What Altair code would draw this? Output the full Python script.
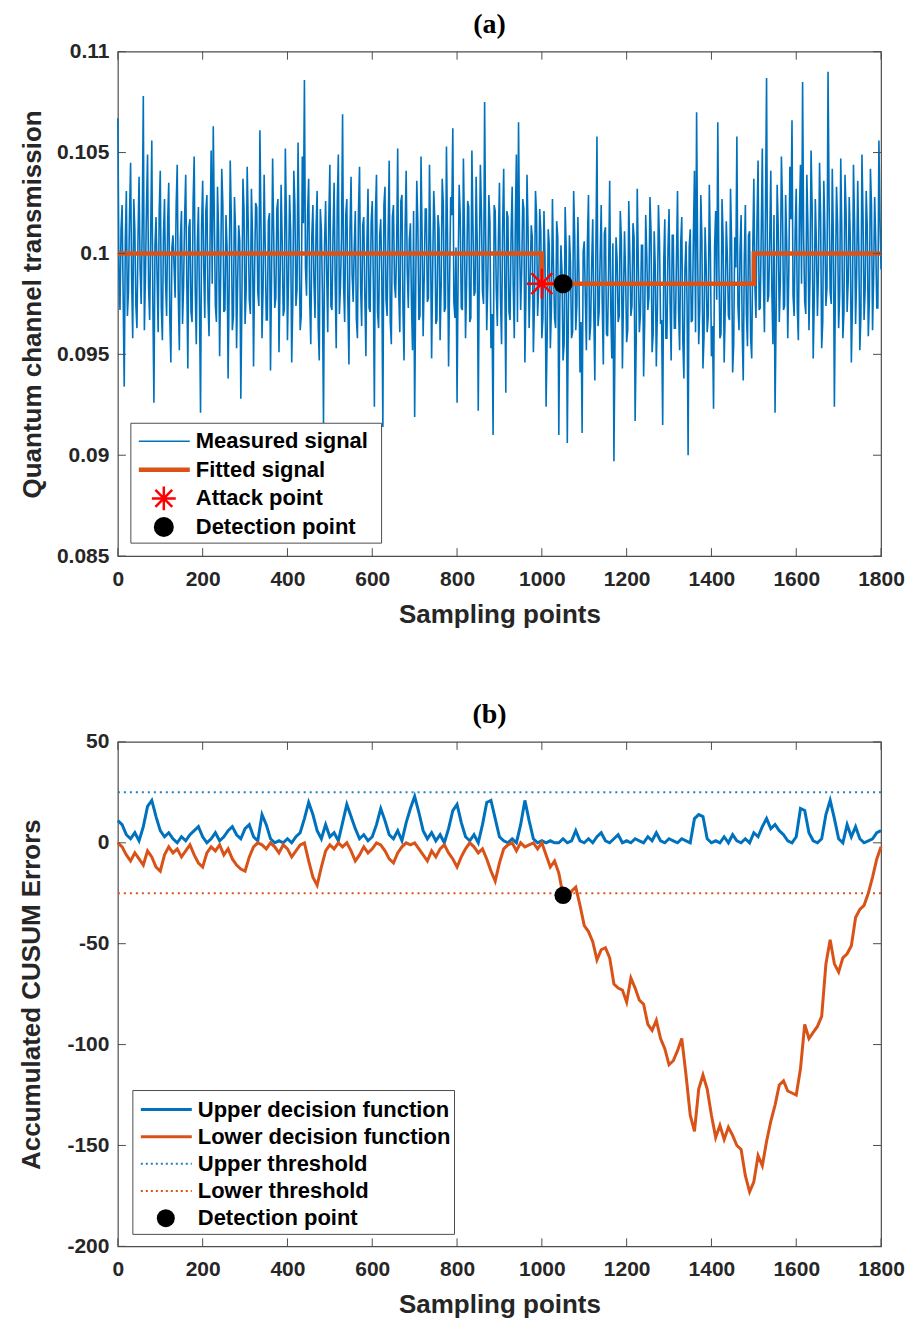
import altair as alt
import numpy as np
import pandas as pd

# ---------------- data ----------------
x_ticks = [0, 200, 400, 600, 800, 1000, 1200, 1400, 1600, 1800]
a_y_ticks = [0.085, 0.09, 0.095, 0.1, 0.105, 0.11]
b_y_ticks = [-200, -150, -100, -50, 0, 50]

# panel (a): measured quantum channel transmission, readings at sampling points 0, 5, 10, ...
measured_step = 5
measured = [
    0.1067, 0.0972, 0.1024, 0.0934, 0.1031, 0.0981, 0.1045, 0.0958, 0.1012, 0.0963,
    0.1038, 0.0975, 0.1078, 0.0988, 0.1049, 0.0967, 0.1056, 0.0926, 0.1018, 0.0961,
    0.1041, 0.0957, 0.1027, 0.0969, 0.1035, 0.0946, 0.1009, 0.0978, 0.1044, 0.0952,
    0.1021, 0.0984, 0.1039, 0.0943, 0.1017, 0.0966, 0.1048, 0.0955, 0.1023, 0.0921,
    0.1036, 0.0968, 0.1029, 0.0959, 0.1051, 0.1063, 0.0974, 0.1033, 0.0949, 0.1042,
    0.0971, 0.1019, 0.0938, 0.1046, 0.0962, 0.1028, 0.0953, 0.1014, 0.0928, 0.1037,
    0.0965, 0.1043, 0.0977, 0.1032, 0.0944, 0.1025, 0.0981, 0.1061, 0.0958, 0.1039,
    0.0967, 0.1016, 0.0942, 0.1047, 0.0973, 0.1022, 0.0951, 0.1034, 0.0969, 0.1052,
    0.0957, 0.1029, 0.0946, 0.1041, 0.0974, 0.1055, 0.0962, 0.1048, 0.1086, 0.0979,
    0.1037, 0.0955, 0.1024, 0.0968, 0.1031, 0.0947, 0.1012, 0.0916, 0.1026, 0.0961,
    0.1044, 0.0972, 0.1035, 0.0953, 0.1049, 0.0984, 0.1069, 0.0966, 0.1027, 0.0945,
    0.1038, 0.0976, 0.1021, 0.0958, 0.1043, 0.0964, 0.1018, 0.0949, 0.1032, 0.0971,
    0.1026, 0.0924, 0.1039, 0.0963, 0.1017, 0.0914, 0.1033, 0.0969, 0.1046, 0.0955,
    0.1024, 0.0978, 0.1052, 0.0961, 0.1029, 0.0947, 0.1041, 0.0973, 0.1015, 0.0952,
    0.0919, 0.1036, 0.0967, 0.1048, 0.0959, 0.1022, 0.0976, 0.1044, 0.0948, 0.1031,
    0.0965, 0.1019, 0.0957, 0.1037, 0.0971, 0.1053, 0.0944, 0.1028, 0.1062, 0.0968,
    0.0926, 0.1034, 0.0973, 0.1047, 0.0958, 0.1026, 0.0966, 0.1051, 0.0979, 0.1038,
    0.0922, 0.1044, 0.0981, 0.1075, 0.0962, 0.1029, 0.0953, 0.0910, 0.1021, 0.0964,
    0.1035, 0.0955, 0.1042, 0.0931, 0.1018, 0.0967, 0.1033, 0.0958, 0.1049, 0.1065,
    0.0972, 0.1027, 0.0946, 0.1039, 0.0963, 0.1014, 0.0951, 0.1031, 0.0969, 0.1022,
    0.0958, 0.1021, 0.0924, 0.1012, 0.0953, 0.1027, 0.0968, 0.1016, 0.0910, 0.1004,
    0.0947, 0.1023, 0.0906, 0.1009, 0.0958, 0.1031, 0.0962, 0.1018, 0.0941, 0.0911,
    0.1006, 0.0952, 0.1029, 0.0964, 0.1017, 0.0937, 0.1058, 0.0971, 0.1024, 0.0945,
    0.1013, 0.0959, 0.1036, 0.0948, 0.0897, 0.1008, 0.0966, 0.1021, 0.0943, 0.1011,
    0.0956, 0.1026, 0.0969, 0.1015, 0.0917, 0.1032, 0.0961, 0.1004, 0.0939, 0.1019,
    0.0972, 0.1028, 0.0951, 0.1011, 0.0944, 0.1024, 0.0965, 0.0915, 0.1017, 0.0958,
    0.1022, 0.0947, 0.1009, 0.0963, 0.1031, 0.0952, 0.1018, 0.0938, 0.1006, 0.0900,
    0.1012, 0.0967, 0.1041, 0.1070, 0.0955, 0.1029, 0.0943, 0.1013, 0.0961, 0.1034,
    0.0949, 0.0923, 0.1021, 0.1065, 0.0958, 0.1027, 0.0946, 0.1016, 0.0969, 0.1032,
    0.0941, 0.1008, 0.1058, 0.0962, 0.1019, 0.0937, 0.1024, 0.0954, 0.1011, 0.0948,
    0.1037, 0.0968, 0.1046, 0.0973, 0.1052, 0.0961, 0.1087, 0.0979, 0.1041, 0.0955,
    0.0921, 0.1034, 0.0966, 0.1048, 0.0972, 0.1029, 0.0958, 0.1043, 0.1066, 0.0969,
    0.1032, 0.0957, 0.1044, 0.1085, 0.0976, 0.1039, 0.0962, 0.1051, 0.0948, 0.1027,
    0.0969, 0.1045, 0.0953, 0.1036, 0.0974, 0.1090, 0.0981, 0.1042, 0.0924, 0.1033,
    0.0963, 0.1047, 0.0958, 0.1039, 0.0971, 0.1028, 0.0946, 0.1044, 0.0965, 0.1036,
    0.0952, 0.1049, 0.0967, 0.1031, 0.0959, 0.1042, 0.0962, 0.1028, 0.0973, 0.1056,
    0.0992,
]
# readings in between, at sampling points 2.5, 7.5, 12.5, ...
measured_mid_offset = 2.5
measured_mid = [
    0.0991, 0.1012, 0.0978, 0.1006, 0.0969, 0.1019, 0.0987, 0.1027, 0.0974, 0.1008,
    0.0992, 0.1015, 0.0962, 0.1023, 0.0983, 0.1011, 0.0976, 0.1004, 0.0989, 0.1021,
    0.0973, 0.1009, 0.0986, 0.1016, 0.0968, 0.1003, 0.0994, 0.1024, 0.0979, 0.1007,
    0.0965, 0.1018, 0.0988, 0.1013, 0.0971, 0.1026, 0.0982, 0.1005, 0.0975, 0.1014,
    0.0993, 0.1021, 0.0977, 0.1008, 0.0985, 0.1017, 0.0966, 0.1011, 0.0990, 0.1025,
    0.0972, 0.1003, 0.0984, 0.1019, 0.0969, 0.1012, 0.0987, 0.1006, 0.0976, 0.1022,
    0.0981, 0.1014, 0.0970, 0.1009, 0.0992, 0.1023, 0.0974, 0.1016, 0.0983, 0.1004,
    0.0967, 0.1020, 0.0989, 0.1010, 0.0978, 0.1027, 0.0985, 0.1007, 0.0972, 0.1018,
    0.0988, 0.1011, 0.0975, 0.1024, 0.0982, 0.1006, 0.0969, 0.1015, 0.0993, 0.1020,
    0.0977, 0.1009, 0.0986, 0.1013, 0.0964, 0.1022, 0.0980, 0.1005, 0.0991, 0.1017,
    0.0974, 0.1010, 0.0987, 0.1025, 0.0970, 0.1008, 0.0983, 0.1019, 0.0976, 0.1012,
    0.0990, 0.1003, 0.0968, 0.1021, 0.0984, 0.1014, 0.0979, 0.1006, 0.0973, 0.1016,
    0.0986, 0.1020, 0.0971, 0.1009, 0.0989, 0.1024, 0.0977, 0.1011, 0.0966, 0.1018,
    0.0985, 0.1004, 0.0980, 0.1026, 0.0972, 0.1013, 0.0992, 0.1007, 0.0975, 0.1021,
    0.0983, 0.1015, 0.0969, 0.1010, 0.0988, 0.1022, 0.0978, 0.1005, 0.0991, 0.1017,
    0.0967, 0.1012, 0.0984, 0.1025, 0.0973, 0.1008, 0.0987, 0.1019, 0.0976, 0.1003,
    0.0990, 0.1018, 0.0972, 0.1011, 0.0985, 0.1023, 0.0968, 0.1014, 0.0981, 0.1006,
    0.0993, 0.1020, 0.0975, 0.1009, 0.0986, 0.1016, 0.0970, 0.1024, 0.0982, 0.1007,
    0.0977, 0.1013, 0.0989, 0.1021, 0.0971, 0.1010, 0.0984, 0.1017, 0.0966, 0.1005,
    0.0992, 0.1022, 0.0979, 0.1012, 0.0987, 0.1008, 0.0974, 0.1019, 0.0983, 0.1011,
    0.0968, 0.0997, 0.0959, 0.1004, 0.0972, 0.0993, 0.0963, 0.1008, 0.0976, 0.0991,
    0.0955, 0.1002, 0.0970, 0.0996, 0.0961, 0.1009, 0.0974, 0.0989, 0.0966, 0.1001,
    0.0979, 0.1006, 0.0957, 0.0994, 0.0971, 0.1003, 0.0964, 0.0998, 0.0975, 0.1010,
    0.0960, 0.0992, 0.0973, 0.1005, 0.0958, 0.0997, 0.0969, 0.1007, 0.0977, 0.0990,
    0.0962, 0.1000, 0.0974, 0.1008, 0.0956, 0.0995, 0.0970, 0.1004, 0.0965, 0.0999,
    0.0978, 0.1011, 0.0960, 0.0993, 0.0972, 0.1006, 0.0967, 0.0996, 0.0958, 0.1002,
    0.0975, 0.1009, 0.0963, 0.0997, 0.0971, 0.1005, 0.0957, 0.0992, 0.0976, 0.1003,
    0.0966, 0.1010, 0.0961, 0.0998, 0.0973, 0.1007, 0.0959, 0.0994, 0.0969, 0.1001,
    0.0964, 0.1004, 0.0977, 0.0995, 0.0960, 0.1008, 0.0972, 0.0999, 0.0967, 0.1006,
    0.0955, 0.0993, 0.0974, 0.1002, 0.0962, 0.0997, 0.0970, 0.1009, 0.0958, 0.1003,
    0.0984, 0.1016, 0.0972, 0.1010, 0.0989, 0.1022, 0.0976, 0.1007, 0.0981, 0.1019,
    0.0968, 0.1013, 0.0986, 0.1025, 0.0974, 0.1006, 0.0991, 0.1017, 0.0979, 0.1011,
    0.0973, 0.1020, 0.0985, 0.1008, 0.0970, 0.1014, 0.0988, 0.1023, 0.0977, 0.1005,
    0.0992, 0.1018, 0.0966, 0.1012, 0.0983, 0.1026, 0.0975, 0.1009, 0.0987, 0.1015,
    0.0980, 0.1011, 0.0971, 0.1021, 0.0986, 0.1007, 0.0974, 0.1016, 0.0990, 0.1004,
    0.0969, 0.1019, 0.0982, 0.1013, 0.0977, 0.1024, 0.0988, 0.1006, 0.0973, 0.1017,
]

# panel (a): fitted step signal, attack and detection points
fitted_x = [0, 1000, 1000, 1500, 1500, 1800]
fitted_y = [0.1, 0.1, 0.0985, 0.0985, 0.1, 0.1]
attack_x = [1000]
attack_y = [0.0985]
detect_a_x = [1050]
detect_a_y = [0.0985]

# panel (b): CUSUM decision functions, one reading every 10 sampling points
cusum_step = 10
upper_fn = [
    11, 9, 4, 2, 5, 1, 8, 18, 21, 13, 6, 3, 5, 2, 0, 3, 1, 4, 6, 8,
    3, 0, 2, 5, 1, 3, 6, 8, 4, 2, 7, 9, 3, 1, 14, 9, 2, 0, 1, 0,
    2, 0, 3, 5, 12, 20, 14, 6, 2, 9, 3, 5, 1, 10, 19, 13, 7, 2, 4, 1,
    3, 9, 17, 11, 4, 2, 6, 1, 10, 17, 23, 15, 6, 2, 5, 1, 4, 0, 7, 16,
    19, 10, 3, 1, 4, 0, 9, 20, 21, 12, 3, 1, 0, 2, 0, 9, 21, 11, 2, 0,
    1, 0, 1, 0, 0, 2, 0, 1, 6, 1, 0, 2, 0, 3, 5, 1, 0, 2, 4, 0,
    1, 0, 2, 1, 0, 3, 1, 5, 1, 0, 2, 1, 0, 2, 1, 0, 12, 14, 13, 2,
    0, 1, 0, 3, 0, 4, 1, 0, 2, 0, 5, 3, 8, 12, 7, 9, 6, 4, 1, 0,
    3, 17, 16, 5, 1, 0, 2, 14, 21, 12, 2, 0, 9, 3, 8, 2, 0, 1, 2, 5,
    6,
]
lower_fn = [
    0, -2, -6, -9, -5, -8, -11, -4, -7, -12, -14, -6, -2, -5, -3, -7, -4, -1, -6, -10,
    -12, -5, -2, -4, -1, -6, -3, -8, -11, -13, -14, -7, -2, 0, -1, -3, 0, -2, -5, -1,
    -3, -7, -4, -1, 0, -9, -17, -21, -12, -4, -1, -3, 0, -2, 0, -4, -9, -6, -2, -5,
    -3, 0, -1, -4, -8, -10, -5, -2, 0, -1, 0, -3, -6, -9, -4, -7, -3, -1, -5, -8,
    -12, -7, -3, 0, -2, -5, -3, -8, -14, -19, -10, -3, -1, 0, -4, 0, -2, -1, 0, -3,
    0, -6, -12, -9, -15, -26, -28, -24, -22, -31, -41, -44, -49, -58, -53, -52, -57, -70, -72, -73,
    -79, -67, -72, -78, -80, -90, -93, -88, -97, -102, -110, -108, -103, -97, -115, -135, -143, -122, -115, -122,
    -135, -146, -140, -147, -141, -145, -150, -152, -165, -173, -168, -155, -160, -148, -138, -130, -120, -118, -123, -124,
    -125, -112, -90, -97, -94, -91, -86, -60, -48, -60, -64, -57, -55, -51, -37, -33, -31, -25, -17, -8,
    -2,
]
upper_threshold = [25]
lower_threshold = [-25]
detect_b_x = [1050]
detect_b_y = [-26]

legend_a_labels = ["Measured signal", "Fitted signal", "Attack point", "Detection point"]
legend_b_labels = ["Upper decision function", "Lower decision function",
                   "Upper threshold", "Lower threshold", "Detection point"]

# ---------------- styling ----------------
BLUE = "#0072BD"
ORANGE = "#D95319"
RED = "#FF0000"
DOT_BLUE = "#1F80C0"
FRAME = "#4D4D4D"
SANS = "Liberation Sans"
SERIF = "Liberation Serif"
W, H = 764, 505
TICK = 8
ASTERISK = "M0,-1L0,1M-1,0L1,0M-0.7,-0.7L0.7,0.7M-0.7,0.7L0.7,-0.7"


def frame_ticks(X, Y, y_values):
    dx = pd.DataFrame({"x": x_ticks})
    dy = pd.DataFrame({"y": y_values})
    bx = alt.Chart(dx).mark_rule(color=FRAME, strokeWidth=1)
    by = alt.Chart(dy).mark_rule(color=FRAME, strokeWidth=1)
    return [
        bx.encode(x=X, y=alt.value(H), y2=alt.value(H - TICK)),
        bx.encode(x=X, y=alt.value(0), y2=alt.value(TICK)),
        by.encode(y=Y, x=alt.value(0), x2=alt.value(TICK)),
        by.encode(y=Y, x=alt.value(W), x2=alt.value(W - TICK)),
    ]


def legend(box, first_row, row_gap, entries):
    one = pd.DataFrame({"k": [0]})
    x0, x1, y0, y1 = box
    layers = [
        alt.Chart(one).mark_rect(fill="white", stroke=FRAME, strokeWidth=1).encode(
            x=alt.value(x0), x2=alt.value(x1), y=alt.value(y0), y2=alt.value(y1))
    ]
    for i, e in enumerate(entries):
        yy = y0 + first_row + i * row_gap
        if e["kind"] == "line":
            kw = dict(color=e["color"], strokeWidth=e["width"])
            if "dash" in e:
                kw["strokeDash"] = e["dash"]
            layers.append(alt.Chart(one).mark_rule(**kw).encode(
                x=alt.value(x0 + 8), x2=alt.value(x0 + 59), y=alt.value(yy)))
        else:
            layers.append(alt.Chart(one).mark_point(**e["mark"]).encode(
                x=alt.value(x0 + 33), y=alt.value(yy)))
        layers.append(alt.Chart(one).mark_text(
            text=e["label"], align="left", baseline="middle", font=SANS,
            fontWeight="bold", fontSize=22, color="black").encode(
            x=alt.value(x0 + 65), y=alt.value(yy)))
    return layers


x_scale = alt.Scale(domain=[0, 1800], nice=False, zero=False)


def x_axis():
    return alt.Axis(values=x_ticks, format="d", title="Sampling points",
                    labelPadding=12, titlePadding=12, labelFlush=False)


# ---------------- panel (a) ----------------
Xa = alt.X("x:Q", scale=x_scale, axis=x_axis())
Ya = alt.Y("y:Q", scale=alt.Scale(domain=[0.085, 0.11], nice=False, zero=False),
           axis=alt.Axis(values=a_y_ticks, format=".3~f",
                         title="Quantum channel transmission",
                         labelPadding=9, titlePadding=11, labelFlush=False))

df_meas = pd.concat([
    pd.DataFrame({"x": np.arange(len(measured)) * measured_step, "y": measured}),
    pd.DataFrame({"x": np.arange(len(measured_mid)) * measured_step + measured_mid_offset,
                  "y": measured_mid}),
]).sort_values("x").reset_index(drop=True)
df_fit = pd.DataFrame({"x": fitted_x, "y": fitted_y, "o": list(range(len(fitted_x)))})
df_att = pd.DataFrame({"x": attack_x, "y": attack_y})
df_det_a = pd.DataFrame({"x": detect_a_x, "y": detect_a_y})

layers_a = [
    alt.Chart(df_meas).mark_line(color=BLUE, strokeWidth=1.6).encode(x=Xa, y=Ya),
    alt.Chart(df_fit).mark_line(color=ORANGE, strokeWidth=4.5).encode(
        x=Xa, y=Ya, order=alt.Order("o:Q")),
    alt.Chart(df_att).mark_point(shape=ASTERISK, filled=False, color=RED,
                                 strokeWidth=2.5, size=900, opacity=1).encode(x=Xa, y=Ya),
    alt.Chart(df_det_a).mark_point(shape="circle", filled=True, color="black",
                                   size=361, opacity=1).encode(x=Xa, y=Ya),
]
entries_a = [
    dict(kind="line", label=legend_a_labels[0], color=BLUE, width=1.5),
    dict(kind="line", label=legend_a_labels[1], color=ORANGE, width=4.5),
    dict(kind="point", label=legend_a_labels[2],
         mark=dict(shape=ASTERISK, filled=False, color=RED, strokeWidth=2.5, size=576, opacity=1)),
    dict(kind="point", label=legend_a_labels[3],
         mark=dict(shape="circle", filled=True, color="black", size=400, opacity=1)),
]
layers_a += legend((13, 264, 372, 492), 18, 28.6, entries_a)
layers_a += frame_ticks(Xa, Ya, a_y_ticks)

chart_a = alt.layer(*layers_a).properties(
    width=W, height=H,
    title=alt.TitleParams("(a)", font=SERIF, fontSize=28, fontWeight="bold",
                          color="black", anchor="middle", frame="group",
                          dx=-10, offset=2),
)

# ---------------- panel (b) ----------------
Xb = alt.X("x:Q", scale=x_scale, axis=x_axis())
Yb = alt.Y("y:Q", scale=alt.Scale(domain=[-200, 50], nice=False, zero=False),
           axis=alt.Axis(values=b_y_ticks, labelExpr="'' + datum.value",
                         title="Accumulated CUSUM Errors",
                         labelPadding=9, titlePadding=22, labelFlush=False))

df_up = pd.DataFrame({"x": np.arange(len(upper_fn)) * cusum_step, "y": upper_fn})
df_lo = pd.DataFrame({"x": np.arange(len(lower_fn)) * cusum_step, "y": lower_fn})
df_uth = pd.DataFrame({"y": upper_threshold})
df_lth = pd.DataFrame({"y": lower_threshold})
df_det_b = pd.DataFrame({"x": detect_b_x, "y": detect_b_y})

layers_b = [
    alt.Chart(df_uth).mark_rule(color=DOT_BLUE, strokeWidth=2, strokeDash=[2, 4]).encode(y=Yb),
    alt.Chart(df_lth).mark_rule(color=ORANGE, strokeWidth=2, strokeDash=[2, 4]).encode(y=Yb),
    alt.Chart(df_up).mark_line(color=BLUE, strokeWidth=3).encode(x=Xb, y=Yb),
    alt.Chart(df_lo).mark_line(color=ORANGE, strokeWidth=3).encode(x=Xb, y=Yb),
    alt.Chart(df_det_b).mark_point(shape="circle", filled=True, color="black",
                                   size=300, opacity=1).encode(x=Xb, y=Yb),
]
entries_b = [
    dict(kind="line", label=legend_b_labels[0], color=BLUE, width=3),
    dict(kind="line", label=legend_b_labels[1], color=ORANGE, width=3),
    dict(kind="line", label=legend_b_labels[2], color=DOT_BLUE, width=2, dash=[2, 3]),
    dict(kind="line", label=legend_b_labels[3], color=ORANGE, width=2, dash=[2, 3]),
    dict(kind="point", label=legend_b_labels[4],
         mark=dict(shape="circle", filled=True, color="black", size=324, opacity=1)),
]
layers_b += legend((15, 337, 349, 493), 19, 27.2, entries_b)
layers_b += frame_ticks(Xb, Yb, b_y_ticks)

chart_b = alt.layer(*layers_b).properties(
    width=W, height=H,
    title=alt.TitleParams("(b)", font=SERIF, fontSize=28, fontWeight="bold",
                          color="black", anchor="middle", frame="group",
                          dx=-10, offset=2),
)

chart = (
    alt.vconcat(chart_a, chart_b, spacing=72)
    .properties(padding={"left": 18, "top": 9, "right": 5, "bottom": 4})
    .configure_view(stroke=FRAME, strokeWidth=1.2)
    .configure_axis(
        labelFont=SANS, labelFontWeight="bold", labelFontSize=21, labelColor="#262626",
        titleFont=SANS, titleFontWeight="bold", titleFontSize=26, titleColor="#262626",
        grid=False, ticks=False, domain=False,
    )
)

chart.save("out.html", embed_options={"renderer": "svg", "actions": False})
